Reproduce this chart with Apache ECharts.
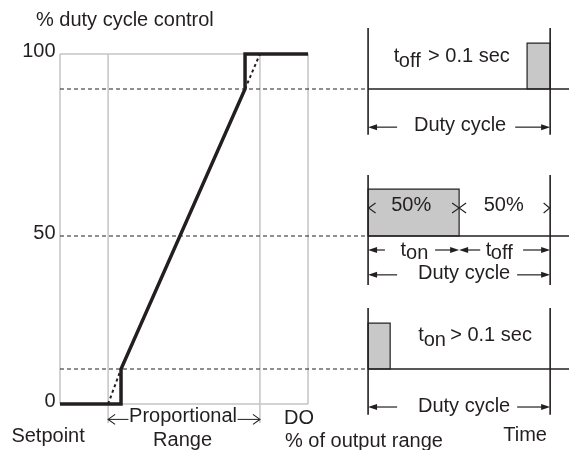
<!DOCTYPE html>
<html><head><meta charset="utf-8">
<script src="https://cdn.jsdelivr.net/npm/echarts@6/dist/echarts.min.js"></script>
<style>html,body{margin:0;padding:0;background:#fff}#c{width:569px;height:450px}</style>
</head><body><div id="c"></div>
<script>
// ---- data ----
const yTickValues = [0, 48, 100];
const yTickLabels = ['0', '50', '100'];
const controlX = [0, 24.6, 24.6, 74.6, 74.6, 100];
const controlY = [0, 0, 10, 90, 100, 100];
const extLowX = [19.4, 24.6], extLowY = [0, 10];
const extHighX = [74.6, 80.6], extHighY = [90, 100];
const gridXs = [0, 19.4, 80.6, 100];
const gridBottoms = [0, -5.4, -5.4, 0];
const levelValues = [90, 48, 10];
const pulseStart = [188.3, 124.2, 124.2];
const pulseEnd = [197.6, 160.9, 133.1];
const pulseTop = [103.1, 61.4, 23.1];
const markTop = [107.4, 65.4, 27.4];
const markBottom = [76.9, 34, -3.1];
const cycleStart = 124.2, cycleEnd = 197.6, lineEnd = 205.2;
const texts = {
  title: '% duty cycle control', setpoint: 'Setpoint', prop: 'Proportional', range: 'Range',
  doLbl: 'DO', outRange: '% of output range', time: 'Time', duty: 'Duty cycle',
  t: 't', off: 'off', on: 'on', gt: '> 0.1 sec', half: '50%'
};

const C = '#231f20';
const FONT = '"Liberation Sans", Arial, Helvetica, sans-serif';
const FS = 20;
const zip = (xs, ys) => xs.map((x, i) => [x, ys[i]]);

function txt(api, s, x, y, align) {
  const p = api.coord([x, y]);
  return {type: 'text', x: p[0], y: p[1], style: {text: s, fill: C, fontSize: FS, fontFamily: FONT, align: align || 'left', verticalAlign: 'middle'}};
}
function farrow(api, x1, x2, y) {
  const a = api.coord([x1, y]), b = api.coord([x2, y]);
  const d = Math.sign(b[0] - a[0]);
  const hl = 9, hw = 3;
  return [
    {type: 'line', shape: {x1: a[0], y1: a[1], x2: b[0] - d * 4, y2: b[1]}, style: {stroke: C, lineWidth: 1.2}},
    {type: 'polygon', shape: {points: [[b[0], b[1]], [b[0] - d * hl, b[1] - hw], [b[0] - d * hl, b[1] + hw]]}, style: {fill: C}}
  ];
}
function chevron(api, x, y, d, len, half) {
  const p = api.coord([x, y]);
  return {type: 'polyline', shape: {points: [[p[0] - d * len, p[1] - half], [p[0], p[1]], [p[0] - d * len, p[1] + half]]}, style: {stroke: C, fill: null, lineWidth: 1.1}};
}
function oarrow(api, x1, x2, y) {
  const a = api.coord([x1, y]), b = api.coord([x2, y]);
  const d = Math.sign(b[0] - a[0]);
  return [
    {type: 'line', shape: {x1: a[0], y1: a[1], x2: b[0], y2: b[1]}, style: {stroke: C, lineWidth: 1}},
    chevron(api, x2, y, d, 7, 5)
  ];
}
function polyline(api, pts, style) {
  return {type: 'polyline', shape: {points: pts.map(p => api.coord(p))}, style: Object.assign({fill: null, stroke: C}, style)};
}

const chart = echarts.init(document.getElementById('c'));
chart.setOption({
  animation: false,
  grid: {left: 60, right: 0, top: 54, bottom: 46},
  xAxis: {type: 'value', min: 0, max: lineEnd, show: false},
  yAxis: {type: 'value', min: 0, max: 100, show: false},
  series: [
    { // grey grid verticals
      type: 'custom', clip: false, z: 1,
      data: zip(gridXs, gridBottoms),
      renderItem: (params, api) => {
        const a = api.coord([api.value(0), 100]), b = api.coord([api.value(0), api.value(1)]);
        return {type: 'line', shape: {x1: a[0], y1: a[1], x2: b[0], y2: b[1]}, style: {stroke: '#c4c4c4', lineWidth: 1.5}};
      }
    },
    { // grey grid horizontals
      type: 'custom', clip: false, z: 1,
      data: [[0, 100], [0, 0]],
      renderItem: (params, api) => {
        const a = api.coord([0, api.value(1)]), b = api.coord([100, api.value(1)]);
        return {type: 'line', shape: {x1: a[0], y1: a[1], x2: b[0], y2: b[1]}, style: {stroke: '#c4c4c4', lineWidth: 1.5}};
      }
    },
    { // dashed levels
      type: 'custom', clip: false, z: 2,
      data: levelValues.map(v => [0, v]),
      renderItem: (params, api) => {
        const a = api.coord([0, api.value(1)]), b = api.coord([cycleStart, api.value(1)]);
        return {type: 'line', shape: {x1: a[0], y1: a[1], x2: b[0], y2: b[1]}, style: {stroke: C, lineWidth: 1, lineDash: [4, 3]}};
      }
    },
    { // proportional line extensions (dotted) and control curve
      type: 'custom', clip: false, z: 4,
      data: [[0, 0]],
      renderItem: (params, api) => ({type: 'group', children: [
        polyline(api, zip(extLowX, extLowY), {lineWidth: 2, lineDash: [3, 3]}),
        polyline(api, zip(extHighX, extHighY), {lineWidth: 2, lineDash: [3, 3]}),
        polyline(api, zip(controlX, controlY), {lineWidth: 3.5, lineJoin: 'miter'})
      ]})
    },
    { // duty cycle timing diagrams
      type: 'custom', clip: false, z: 3,
      data: levelValues.map((v, i) => [i, v]),
      renderItem: (params, api) => {
        const i = params.dataIndex, base = levelValues[i];
        const p0 = api.coord([pulseStart[i], pulseTop[i]]), p1 = api.coord([pulseEnd[i], base]);
        const b0 = api.coord([cycleStart, base]), b1 = api.coord([lineEnd, base]);
        const v0 = api.coord([cycleStart, markTop[i]]), v1 = api.coord([cycleStart, markBottom[i]]);
        const w0 = api.coord([cycleEnd, markTop[i]]), w1 = api.coord([cycleEnd, markBottom[i]]);
        return {type: 'group', children: [
          {type: 'rect', shape: {x: p0[0], y: p0[1], width: p1[0] - p0[0], height: p1[1] - p0[1]}, style: {fill: '#c8c8c8', stroke: C, lineWidth: 1.2}},
          {type: 'line', shape: {x1: b0[0], y1: b0[1], x2: b1[0], y2: b1[1]}, style: {stroke: C, lineWidth: 1.6}},
          {type: 'line', shape: {x1: v0[0], y1: v0[1], x2: v1[0], y2: v1[1]}, style: {stroke: C, lineWidth: 1.6}},
          {type: 'line', shape: {x1: w0[0], y1: w0[1], x2: w1[0], y2: w1[1]}, style: {stroke: C, lineWidth: 1.6}}
        ]};
      }
    },
    { // annotations
      type: 'custom', clip: false, z: 5,
      data: [[0, 0]],
      renderItem: (params, api) => {
        const ch = [];
        ch.push(txt(api, texts.title, -9.7, 109.6));
        yTickValues.forEach((v, i) => ch.push(txt(api, yTickLabels[i], -1.8, v + 0.7, 'right')));
        ch.push(txt(api, texts.setpoint, -4.8, -9.3, 'center'));
        ch.push(txt(api, texts.prop, 49.6, -3.7, 'center'));
        ch.push(txt(api, texts.range, 49.4, -10.4, 'center'));
        ch.push(...oarrow(api, 27.6, 19.4, -4.4));
        ch.push(...oarrow(api, 71.6, 80.6, -4.4));
        ch.push(txt(api, texts.doLbl, 96.4, -4.1, 'center'));
        ch.push(txt(api, texts.outRange, 90.7, -10.7));
        ch.push(txt(api, texts.time, 187.5, -9, 'center'));
        // top diagram
        ch.push(txt(api, texts.t, 134.5, 99.3));
        ch.push(txt(api, texts.off, 136.6, 97.9));
        ch.push(txt(api, texts.gt, 148.4, 99.3));
        ch.push(txt(api, texts.duty, 161.3, 79.6, 'center'));
        ch.push(...farrow(api, 135.9, cycleStart, 79.1));
        ch.push(...farrow(api, 183.5, cycleEnd, 79.1));
        // middle diagram
        ch.push(txt(api, texts.half, 141.6, 56.7, 'center'));
        ch.push(txt(api, texts.half, 178.9, 56.7, 'center'));
        ch.push(chevron(api, 124.4, 56.0, -1, 7, 5));
        ch.push(chevron(api, 160.9, 56.0, 1, 7, 5));
        ch.push(chevron(api, 160.9, 56.0, -1, 7, 5));
        ch.push(chevron(api, 197.4, 56.0, 1, 6, 5));
        ch.push(txt(api, texts.t, 137.3, 43.9));
        ch.push(txt(api, texts.on, 139.5, 43));
        ch.push(txt(api, texts.t, 171.6, 43.9));
        ch.push(txt(api, texts.off, 173.7, 42.9));
        ch.push(...farrow(api, 131.0, cycleStart, 44));
        ch.push(...farrow(api, 151.2, 160.9, 44));
        ch.push(...farrow(api, 169.4, 160.9, 44));
        ch.push(...farrow(api, 186.7, cycleEnd, 44));
        ch.push(txt(api, texts.duty, 162.9, 37.4, 'center'));
        ch.push(...farrow(api, 135.9, cycleStart, 36.9));
        ch.push(...farrow(api, 184.3, cycleEnd, 36.9));
        // bottom diagram
        ch.push(txt(api, texts.t, 144.4, 19.6));
        ch.push(txt(api, texts.on, 146.6, 18.1));
        ch.push(txt(api, texts.gt, 157.3, 19.6));
        ch.push(txt(api, texts.duty, 162.9, -0.66, 'center'));
        ch.push(...farrow(api, 135.9, cycleStart, -0.86));
        ch.push(...farrow(api, 184.3, cycleEnd, -0.86));
        return {type: 'group', children: ch};
      }
    }
  ]
});
</script></body></html>
